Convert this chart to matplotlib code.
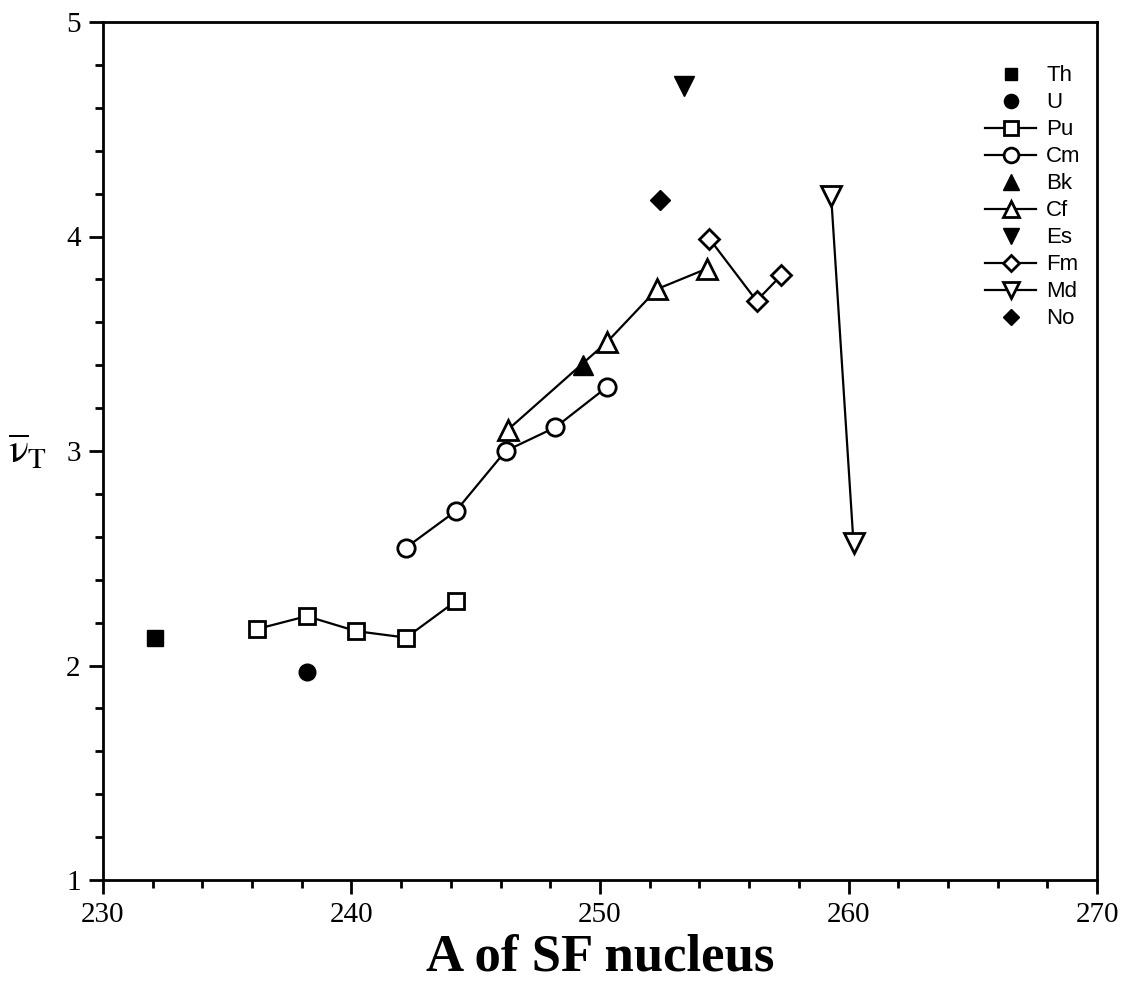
import matplotlib
matplotlib.use("Agg")
import matplotlib.pyplot as plt
from matplotlib.ticker import MultipleLocator

plt.rcParams["mathtext.fontset"] = "stix"

# Values (A of SF nucleus, mean total neutron number)
th_a, th_v = [232.1], [2.13]
u_a, u_v = [238.2], [1.97]
pu_a = [236.2, 238.2, 240.2, 242.2, 244.2]
pu_v = [2.17, 2.23, 2.16, 2.13, 2.30]
cm_a = [242.2, 244.2, 246.2, 248.2, 250.3]
cm_v = [2.55, 2.72, 3.00, 3.11, 3.30]
bk_a, bk_v = [249.3], [3.40]
cf_a = [246.3, 250.3, 252.3, 254.3]
cf_v = [3.10, 3.51, 3.755, 3.85]
es_a, es_v = [253.4], [4.70]
fm_a = [254.4, 256.3, 257.3]
fm_v = [3.99, 3.70, 3.82]
md_a = [259.3, 260.2]
md_v = [4.19, 2.57]
no_a, no_v = [252.4], [4.17]

fig = plt.figure(figsize=(11.31, 10), dpi=100)
ax = fig.add_axes([0.091, 0.12, 0.879, 0.858])

mew = 2.0
lw = 1.6

ax.plot(th_a, th_v, "s", color="k", ms=11, ls="none", label="Th")
ax.plot(u_a, u_v, "o", color="k", ms=12, ls="none", label="U")
ax.plot(pu_a, pu_v, "s-", color="k", mfc="white", ms=12, mew=mew, lw=lw, label="Pu")
ax.plot(cm_a, cm_v, "o-", color="k", mfc="white", ms=12.5, mew=mew, lw=lw, label="Cm")
ax.plot(bk_a, bk_v, "^", color="k", ms=14, ls="none", label="Bk")
ax.plot(cf_a, cf_v, "^-", color="k", mfc="white", ms=14, mew=mew, lw=lw, label="Cf")
ax.plot(es_a, es_v, "v", color="k", ms=14, ls="none", label="Es")
ax.plot(fm_a, fm_v, "D-", color="k", mfc="white", ms=10, mew=mew, lw=lw, label="Fm")
ax.plot(md_a, md_v, "v-", color="k", mfc="white", ms=14, mew=mew, lw=lw, label="Md")
ax.plot(no_a, no_v, "D", color="k", ms=10, ls="none", label="No")

ax.set_xlim(230, 270)
ax.set_ylim(1, 5)
ax.xaxis.set_major_locator(MultipleLocator(10))
ax.xaxis.set_minor_locator(MultipleLocator(2))
ax.yaxis.set_major_locator(MultipleLocator(1))
ax.yaxis.set_minor_locator(MultipleLocator(0.2))

for s in ax.spines.values():
    s.set_linewidth(2)
ax.tick_params(which="major", direction="out", length=10, width=2,
               top=False, right=False, labelsize=21, pad=6)
ax.tick_params(which="minor", direction="out", length=6, width=2,
               top=False, right=False)
for lab in ax.get_xticklabels() + ax.get_yticklabels():
    lab.set_family("Liberation Serif")

ax.set_xlabel("A of SF nucleus", family="Liberation Serif", fontweight="bold",
              fontsize=38, labelpad=4)
ax.set_ylabel(r"$\overline{\mathrm{\nu}}_\mathrm{T}$", fontsize=30, rotation=0,
              labelpad=28, va="center")

leg = ax.legend(loc="upper right", bbox_to_anchor=(0.997, 0.965), frameon=False,
                prop={"family": "Liberation Sans", "size": 16},
                handlelength=2.3, labelspacing=0.27, handletextpad=0.45,
                borderaxespad=0.2, markerscale=0.85)

fig.savefig("out.png", dpi=100)
